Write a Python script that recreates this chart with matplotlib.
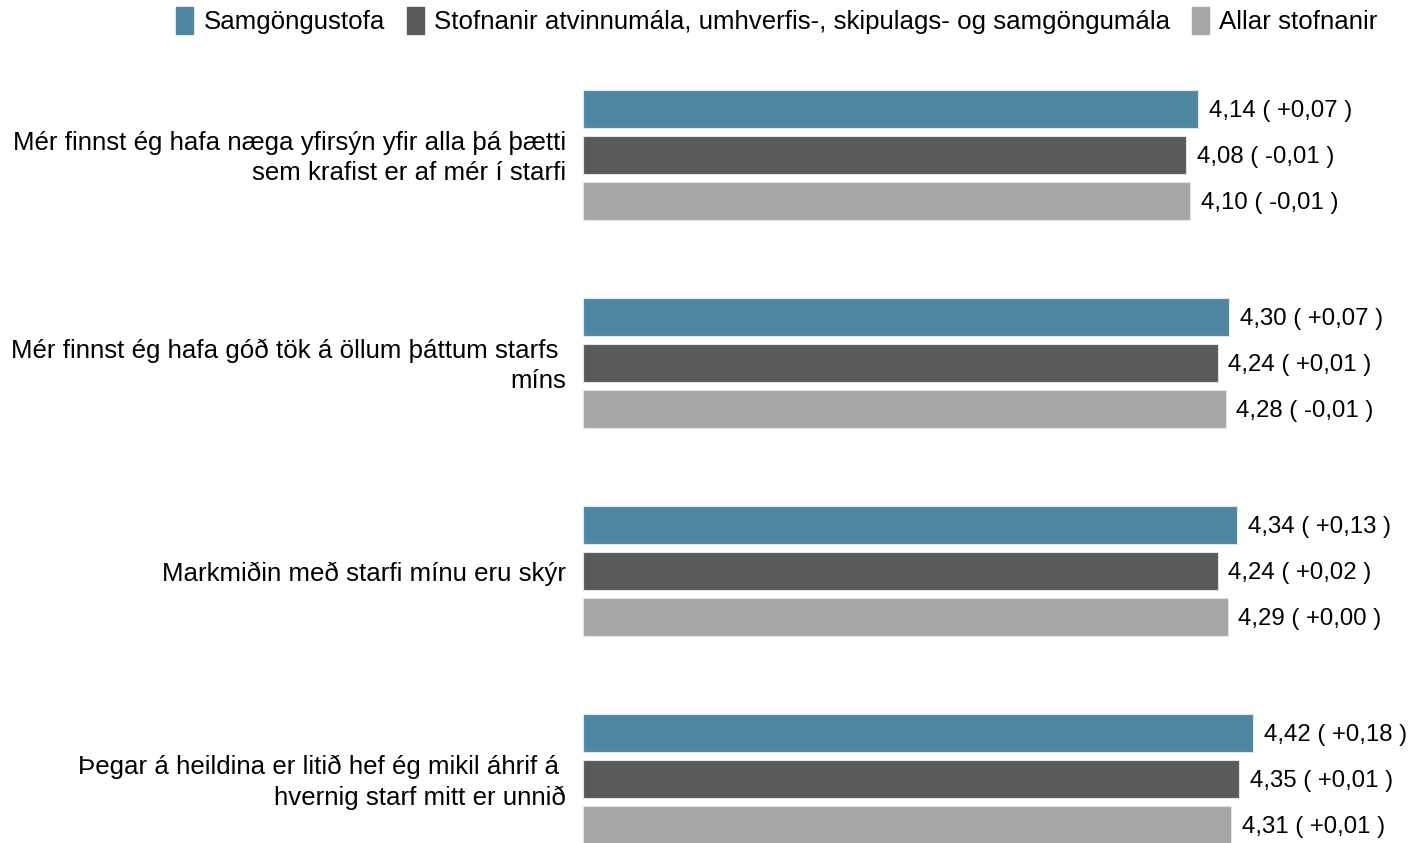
import matplotlib
matplotlib.use("Agg")
import matplotlib.pyplot as plt
import numpy as np

plt.rcParams['font.family'] = ['Liberation Sans', 'DejaVu Sans']

# questions (top to bottom)
questions = [
    "Mér finnst ég hafa næga yfirsýn yfir alla þá þætti\nsem krafist er af mér í starfi",
    "Mér finnst ég hafa góð tök á öllum þáttum starfs \nmíns",
    "Markmiðin með starfi mínu eru skýr",
    "Þegar á heildina er litið hef ég mikil áhrif á \nhvernig starf mitt er unnið",
]
series_names = [
    "Samgöngustofa",
    "Stofnanir atvinnumála, umhverfis-, skipulags- og samgöngumála",
    "Allar stofnanir",
]
samgongustofa = [4.14, 4.30, 4.34, 4.42]
stofnanir_atv = [4.08, 4.24, 4.24, 4.35]
allar_stofnanir = [4.10, 4.28, 4.29, 4.31]
# change from previous year
chg_samg = ["+0,07", "+0,07", "+0,13", "+0,18"]
chg_atv = ["-0,01", "+0,01", "+0,02", "+0,01"]
chg_allar = ["-0,01", "-0,01", "+0,00", "+0,01"]

colors = ["#4f87a2", "#5a5a5a", "#a6a6a6"]
values = [samgongustofa, stofnanir_atv, allar_stofnanir]
changes = [chg_samg, chg_atv, chg_allar]

W, H = 1411, 843
fig = plt.figure(figsize=(W / 100, H / 100), dpi=100)
# axes: left edge at x=1 value, full height
x0px, x1px = 583, 583 + 4 * 195.9
ax = fig.add_axes([x0px / W, 0, (x1px - x0px) / W, 1])

grp = 208.0        # px per category
y_top = -155 / grp
y_bot = (H - 155) / grp
bar_step = 46 / grp
bar_h = 38 / grp

ypos = np.arange(len(questions))
for k in range(3):
    yy = ypos + (k - 1) * bar_step
    ax.barh(yy, np.array(values[k]) - 1, left=1, height=bar_h,
            color=colors[k], edgecolor="#dde6ea", linewidth=0.8)
    for i, v in enumerate(values[k]):
        txt = f"{v:.2f}".replace(".", ",") + f" ( {changes[k][i]} )"
        ax.text(v + 0.055, yy[i] + 0.01, txt, va="center", ha="left",
                fontsize=17.3, color="black", clip_on=False)

for i, q in enumerate(questions):
    ax.text(1 - 17 / 195.9, ypos[i] + 0.015, q, ha="right", va="center",
            fontsize=18.6, linespacing=1.33, clip_on=False)

ax.set_xlim(1, 5)
ax.set_ylim(y_bot, y_top)
ax.axis("off")

handles = [plt.Rectangle((0, 0), 1, 1, color=c) for c in colors]
fig.legend(handles, series_names, loc="upper right", bbox_to_anchor=(1393 / W, 1.01),
           ncol=3, frameon=False, fontsize=18.6, handlelength=0.65, handleheight=1.2,
           handletextpad=0.4, columnspacing=0.85, borderaxespad=0.2)

fig.savefig("out.png", dpi=100)
